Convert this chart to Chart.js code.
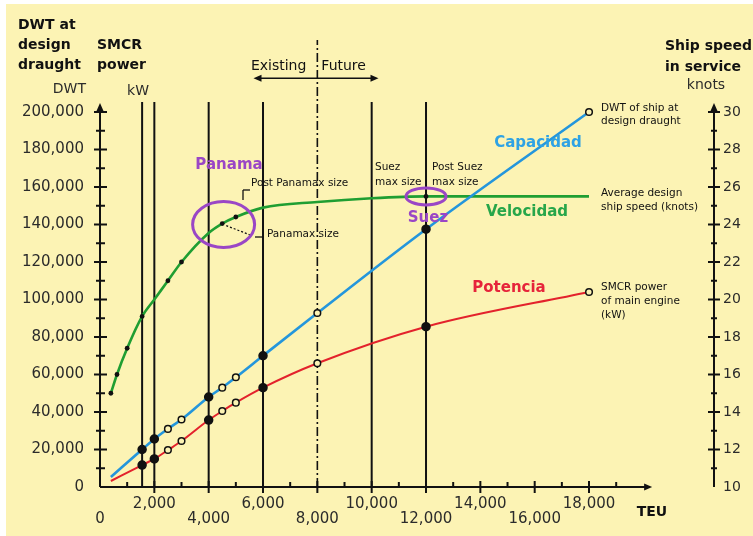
<!DOCTYPE html>
<html>
<head>
<meta charset="utf-8">
<title>Container ships: capacity, power and speed vs TEU</title>
<script src="https://cdn.jsdelivr.net/npm/chart.js@4.4.1/dist/chart.umd.min.js"></script>
<style>
  html, body { margin: 0; padding: 0; background: #fff; }
  canvas { display: block; }
</style>
</head>
<body>
<canvas id="shipChart" width="753" height="536"></canvas>
<script>
// TEU along the bottom, DWT (and kW) on the left, knots on the right
const capTeu = [400, 1550, 2000, 2500, 3000, 4000, 4500, 5000, 6000, 8000, 12000, 18000];
const capDwt = [5300, 20000, 25600, 31000, 36000, 48000, 53000, 58500, 70000, 92800, 137500, 200000];

const powTeu = [400, 1550, 2000, 2500, 3000, 4000, 4500, 5000, 6000, 8000, 12000, 18000];
const powKw = [3200, 11700, 15000, 19700, 24500, 35700, 40500, 45000, 53000, 66000, 85500, 104000];

const spdTeu = [400, 625, 1000, 1550, 2000, 2500, 3000, 4000, 4500, 5000, 6000, 8000, 10000, 12000, 18000];
const spdKn = [15.0, 16.0, 17.4, 19.1, 20.0, 21.0, 22.0, 23.55, 24.05, 24.4, 24.9, 25.2, 25.4, 25.5, 25.5];

// ship design sizes marked with a solid dot, and speeds marked with a small dot
const filledSizes = [1550, 2000, 4000, 6000, 12000];
const dottedSpeeds = [400, 625, 1000, 1550, 2500, 3000, 4500, 5000, 12000];

// vertical reference lines (TEU) and the existing / future boundary
const refSizes = [1550, 2000, 4000, 6000, 10000, 12000];
const refTopDwt = 205300;
const eraSize = 8000;

const teuTicks = [0, 2000, 4000, 6000, 8000, 10000, 12000, 14000, 16000, 18000];
const dwtTicks = [0, 20000, 40000, 60000, 80000, 100000, 120000, 140000, 160000, 180000, 200000];
const knotTicks = [10, 12, 14, 16, 18, 20, 22, 24, 26, 28, 30];

const X_MAX = 22600, Y_MAX = 238400, K_MIN = 10, K_MAX = 33.84;

const PAPER = '#fcf3b4';
const INK = '#111';
const TICK_INK = '#2b2b2b';
const BLUE = '#2496dc';
const GREEN = '#1f9e32';
const RED = '#e3222c';
const PURPLE = '#9a46c6';
const FONT = '"DejaVu Sans", "Liberation Sans", sans-serif';

const fmt = v => v.toLocaleString('en-US');
const pts = (xs, ys) => xs.map((x, i) => ({ x: x, y: ys[i] }));

function ringMarkers(teu) {
  return {
    pointRadius: c => c.dataIndex === 0 ? 0 : (filledSizes.includes(teu[c.dataIndex]) ? 4 : 3.3),
    pointBackgroundColor: c => filledSizes.includes(teu[c.dataIndex]) ? INK : PAPER,
    pointBorderColor: INK,
    pointBorderWidth: 1.5,
  };
}

const datasets = [
  Object.assign({
    label: 'Capacidad',
    data: pts(capTeu, capDwt),
    yAxisID: 'y',
    borderColor: BLUE,
    borderWidth: 2.6,
    cubicInterpolationMode: 'monotone',
  }, ringMarkers(capTeu)),
  Object.assign({
    label: 'Potencia',
    data: pts(powTeu, powKw),
    yAxisID: 'y',
    borderColor: RED,
    borderWidth: 2,
    cubicInterpolationMode: 'monotone',
  }, ringMarkers(powTeu)),
  {
    label: 'Velocidad',
    data: pts(spdTeu, spdKn),
    yAxisID: 'y2',
    borderColor: GREEN,
    borderWidth: 2.6,
    cubicInterpolationMode: 'monotone',
    pointRadius: c => dottedSpeeds.includes(spdTeu[c.dataIndex]) ? 2.4 : 0,
    pointBackgroundColor: INK,
    pointBorderColor: INK,
    pointBorderWidth: 0,
  },
];

refSizes.forEach(t => {
  datasets.push({
    data: [{ x: t, y: 0 }, { x: t, y: refTopDwt }],
    yAxisID: 'y',
    borderColor: INK,
    borderWidth: 2,
    pointRadius: 0,
  });
});
datasets.push({
  data: [{ x: eraSize, y: 0 }, { x: eraSize, y: Y_MAX }],
  yAxisID: 'y',
  borderColor: INK,
  borderWidth: 1.6,
  borderDash: [9, 3, 2, 3],
  pointRadius: 0,
});

function arrowHead(ctx, x, y, dir) {
  ctx.beginPath();
  if (dir === 'up') { ctx.moveTo(x, y); ctx.lineTo(x - 3.5, y + 8); ctx.lineTo(x + 3.5, y + 8); }
  if (dir === 'right') { ctx.moveTo(x, y); ctx.lineTo(x - 8, y - 3.5); ctx.lineTo(x - 8, y + 3.5); }
  if (dir === 'left') { ctx.moveTo(x, y); ctx.lineTo(x + 8, y - 3.5); ctx.lineTo(x + 8, y + 3.5); }
  ctx.closePath();
  ctx.fill();
}

function seg(ctx, x1, y1, x2, y2) {
  ctx.beginPath(); ctx.moveTo(x1, y1); ctx.lineTo(x2, y2); ctx.stroke();
}

function label(ctx, str, x, y, font, color, align) {
  ctx.font = font;
  ctx.fillStyle = color;
  ctx.textAlign = align || 'left';
  ctx.textBaseline = 'middle';
  ctx.fillText(str, x, y);
}

const paper = {
  id: 'paper',
  beforeDraw(chart) {
    const ctx = chart.ctx;
    ctx.save();
    ctx.fillStyle = '#fff';
    ctx.fillRect(0, 0, chart.width, chart.height);
    ctx.fillStyle = PAPER;
    ctx.fillRect(6, 4, chart.width - 6, chart.height - 4);
    ctx.restore();
  },
  beforeDatasetsDraw(chart) {
    const { ctx, scales: { x, y, y2 } } = chart;
    const x0 = x.getPixelForValue(0);
    const yb = y.getPixelForValue(0);
    const xr = chart.chartArea.right;
    ctx.save();
    ctx.strokeStyle = INK;
    ctx.fillStyle = INK;
    ctx.lineWidth = 2;

    // bottom axis
    const xEnd = x.getPixelForValue(20250);
    seg(ctx, x0, yb, xEnd - 2, yb);
    arrowHead(ctx, xEnd + 2, yb, 'right');
    for (let v = 1000; v <= 19000; v += 1000) {
      const px = x.getPixelForValue(v);
      if (v % 2000 === 0) seg(ctx, px, yb - 6, px, yb + 6);
      else seg(ctx, px, yb - 5, px, yb);
    }

    // left axis
    const yTop = y.getPixelForValue(200000);
    seg(ctx, x0, yb, x0, yTop - 2);
    arrowHead(ctx, x0, yTop - 9, 'up');
    for (let v = 10000; v <= 200000; v += 10000) {
      const py = y.getPixelForValue(v);
      if (v % 20000 === 0) seg(ctx, x0 - 6, py, x0 + 7, py);
      else seg(ctx, x0 - 4, py, x0 + 5, py);
    }

    // right axis
    const kTop = y2.getPixelForValue(30);
    seg(ctx, xr, y2.getPixelForValue(10), xr, kTop - 2);
    arrowHead(ctx, xr, kTop - 9, 'up');
    for (let v = 11; v <= 30; v += 1) {
      const py = y2.getPixelForValue(v);
      if (v % 2 === 0) seg(ctx, xr - 6, py, xr + 6, py);
      else seg(ctx, xr - 3, py, xr + 3, py);
    }

    // existing / future arrow
    const ay = y.getPixelForValue(218000);
    const ax1 = x.getPixelForValue(5650), ax2 = x.getPixelForValue(10250);
    ctx.lineWidth = 1.6;
    seg(ctx, ax1 + 4, ay, ax2 - 4, ay);
    arrowHead(ctx, ax1, ay, 'left');
    arrowHead(ctx, ax2, ay, 'right');
    ctx.restore();
  },
  afterDraw(chart) {
    const { ctx, scales: { x, y, y2 } } = chart;
    ctx.save();
    const bold14 = 'bold 14px ' + FONT;
    const reg14 = '14px ' + FONT;
    const small = '10.5px ' + FONT;
    const tag = 'bold 15px ' + FONT;

    // axis titles
    label(ctx, 'DWT at', 18, 25, bold14, INK);
    label(ctx, 'design', 18, 45, bold14, INK);
    label(ctx, 'draught', 18, 65, bold14, INK);
    label(ctx, 'SMCR', 97, 45, bold14, INK);
    label(ctx, 'power', 97, 65, bold14, INK);
    label(ctx, 'DWT', 86, 89, reg14, TICK_INK, 'right');
    label(ctx, 'kW', 138, 91, reg14, TICK_INK, 'center');
    label(ctx, 'Ship speed', 665, 46, bold14, INK);
    label(ctx, 'in service', 665, 67, bold14, INK);
    label(ctx, 'knots', 706, 85, reg14, TICK_INK, 'center');
    label(ctx, 'TEU', 652, 512, bold14, INK, 'center');

    // existing / future
    const ex = x.getPixelForValue(eraSize);
    label(ctx, 'Existing', ex - 11, 66, reg14, INK, 'right');
    label(ctx, 'Future', ex + 4, 66, reg14, INK, 'left');

    // series names
    label(ctx, 'Capacidad', 538, 143, tag, '#2ea2e4', 'center');
    label(ctx, 'Velocidad', 527, 212, tag, '#27a64a', 'center');
    label(ctx, 'Potencia', 509, 288, tag, '#e6243a', 'center');

    // end-of-line notes
    label(ctx, 'DWT of ship at', 601, 108, small, INK);
    label(ctx, 'design draught', 601, 121, small, INK);
    label(ctx, 'Average design', 601, 193, small, INK);
    label(ctx, 'ship speed (knots)', 601, 207, small, INK);
    label(ctx, 'SMCR power', 601, 287, small, INK);
    label(ctx, 'of main engine', 601, 301, small, INK);
    label(ctx, '(kW)', 601, 315, small, INK);

    // size classes
    label(ctx, 'Post Panamax size', 251, 183, small, INK);
    label(ctx, 'Panamax size', 267, 234, small, INK);
    label(ctx, 'Suez', 375, 167, small, INK);
    label(ctx, 'max size', 375, 182, small, INK);
    label(ctx, 'Post Suez', 432, 167, small, INK);
    label(ctx, 'max size', 432, 182, small, INK);

    ctx.strokeStyle = INK;
    ctx.lineWidth = 1.3;
    seg(ctx, 243, 200, 243, 190);
    seg(ctx, 243, 190, 250, 190);
    ctx.setLineDash([2, 2]);
    const pmx = x.getPixelForValue(4500), pmy = y2.getPixelForValue(24.05);
    seg(ctx, pmx + 4, pmy + 2, 250, 235);
    ctx.setLineDash([]);
    seg(ctx, 255, 237, 263, 237);

    // Panama and Suez rings
    ctx.strokeStyle = PURPLE;
    ctx.lineWidth = 3;
    ctx.beginPath();
    ctx.ellipse(x.getPixelForValue(4550), y2.getPixelForValue(24.0), 31, 23, 0, 0, Math.PI * 2);
    ctx.stroke();
    ctx.beginPath();
    ctx.ellipse(x.getPixelForValue(12000), y2.getPixelForValue(25.5), 20, 8.5, 0, 0, Math.PI * 2);
    ctx.stroke();
    label(ctx, 'Panama', 229, 165, tag, PURPLE, 'center');
    label(ctx, 'Suez', 428, 218, tag, PURPLE, 'center');
    ctx.restore();
  },
};

new Chart(document.getElementById('shipChart'), {
  type: 'line',
  data: { datasets: datasets },
  options: {
    responsive: false,
    animation: false,
    devicePixelRatio: 1,
    layout: { padding: { top: 40, left: 0, right: 0, bottom: 0 } },
    plugins: { legend: { display: false }, tooltip: { enabled: false } },
    scales: {
      x: {
        type: 'linear',
        min: 0,
        max: X_MAX,
        grid: { display: false, drawTicks: false },
        border: { display: false },
        afterBuildTicks: s => { s.ticks = teuTicks.map(v => ({ value: v })); },
        afterFit: s => { s.height = 49; },
        ticks: {
          autoSkip: false,
          maxRotation: 0,
          padding: 10,
          color: TICK_INK,
          font: { family: FONT, size: 15, lineHeight: 1 },
          callback: v => (v / 2000) % 2 === 0 ? ['', fmt(v)] : [fmt(v), ''],
        },
      },
      y: {
        position: 'left',
        min: 0,
        max: Y_MAX,
        grid: { display: false, drawTicks: false },
        border: { display: false },
        afterBuildTicks: s => { s.ticks = dwtTicks.map(v => ({ value: v })); },
        afterFit: s => { s.width = 100; },
        ticks: {
          padding: 16,
          color: TICK_INK,
          font: { family: FONT, size: 15 },
          callback: v => fmt(v),
        },
      },
      y2: {
        position: 'right',
        min: K_MIN,
        max: K_MAX,
        grid: { display: false, drawTicks: false },
        border: { display: false },
        afterBuildTicks: s => { s.ticks = knotTicks.map(v => ({ value: v })); },
        afterFit: s => { s.width = 39; },
        ticks: {
          padding: 9,
          color: TICK_INK,
          font: { family: FONT, size: 14 },
          callback: v => String(v),
        },
      },
    },
  },
  plugins: [paper],
});
</script>
</body>
</html>
